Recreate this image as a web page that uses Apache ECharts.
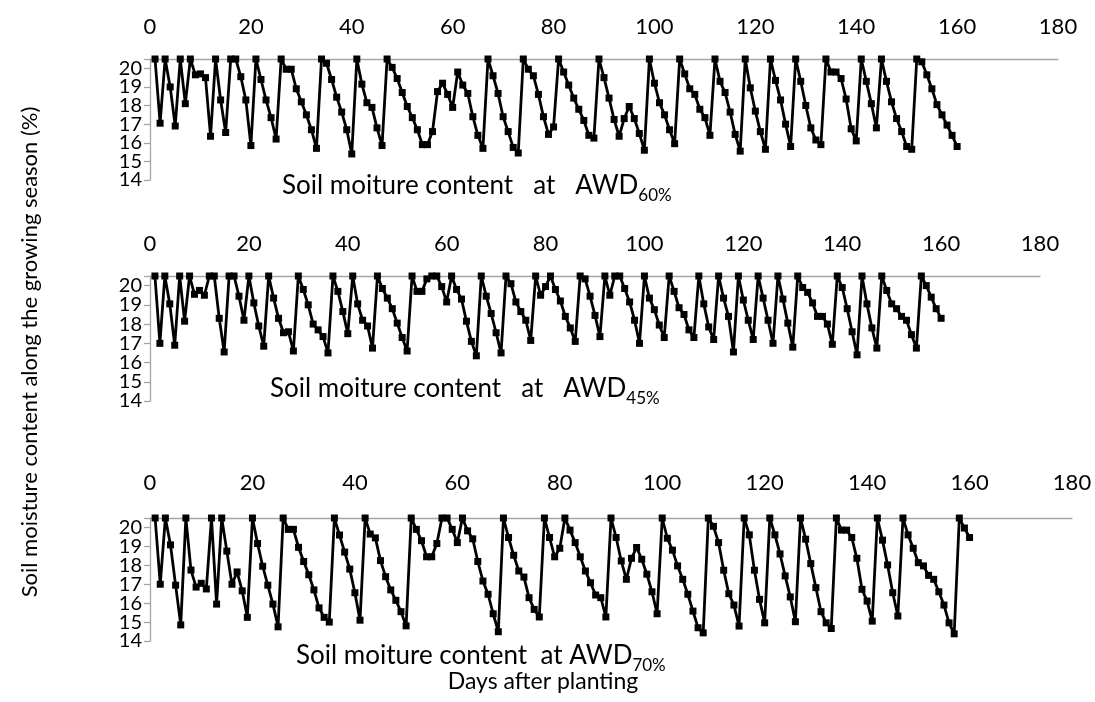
<!DOCTYPE html>
<html>
<head>
<meta charset="utf-8">
<script src="https://cdn.jsdelivr.net/npm/echarts@6/dist/echarts.min.js"></script>
<style>
html,body{margin:0;padding:0;background:#fff;}
#chart{width:1095px;height:702px;}
</style>
</head>
<body>
<div id="chart"></div>
<script>
// Soil moisture (%) per day after planting, days 1..160
const awd60 = [
  20.5,17.05,20.5,19.0,16.9,20.5,18.1,20.5,19.65,19.7,
  19.5,16.35,20.5,18.3,16.55,20.5,20.5,19.55,18.3,15.85,
  20.5,19.4,18.3,17.35,16.2,20.5,19.95,19.95,18.9,18.2,
  17.5,16.7,15.7,20.5,20.27,19.4,18.45,17.65,16.7,15.4,
  20.5,19.15,18.15,17.9,16.8,15.85,20.5,20.05,19.45,18.7,
  17.95,17.35,16.7,15.9,15.9,16.6,18.75,19.2,18.6,17.9,
  19.8,19.1,18.65,17.4,16.4,15.7,20.5,19.6,18.65,17.4,
  16.6,15.75,15.45,20.5,19.95,19.6,18.6,17.4,16.45,16.85,
  20.5,19.8,19.1,18.4,17.8,17.2,16.4,16.25,20.5,19.5,
  18.4,17.25,16.35,17.3,17.95,17.3,16.5,15.6,20.5,19.2,
  18.15,17.5,16.7,15.95,20.5,19.7,18.9,18.6,17.8,17.35,
  16.4,20.5,19.3,18.7,17.65,16.45,15.55,20.5,18.95,17.7,
  16.6,15.65,20.5,19.35,18.3,17.0,15.8,20.5,19.3,18.0,
  16.8,16.15,15.9,20.5,19.8,19.8,19.45,18.35,16.75,16.1,
  20.5,19.3,18.1,16.8,20.5,19.3,18.2,17.3,16.6,15.8,
  15.65,20.5,20.35,19.65,18.9,18.05,17.5,16.95,16.4,15.8
];
const awd45 = [
  20.5,17.0,20.5,19.05,16.9,20.5,18.15,20.5,19.55,19.75,
  19.5,20.5,20.5,18.3,16.55,20.5,20.5,19.45,18.2,20.5,
  19.1,17.9,16.85,20.5,19.35,18.3,17.55,17.6,16.6,20.5,
  19.8,19.0,18.0,17.7,17.35,16.5,20.5,19.7,18.65,17.5,
  20.5,19.05,18.2,17.9,16.75,20.5,19.85,19.35,18.8,18.05,
  17.3,16.6,20.5,19.7,19.7,20.35,20.5,20.5,19.95,19.15,
  20.5,19.8,19.3,18.15,17.1,16.35,20.5,19.45,18.55,17.55,
  16.5,20.5,20.1,19.15,18.65,18.2,17.15,20.5,19.5,19.95,
  20.5,19.8,19.2,18.4,17.8,17.1,20.5,20.35,19.45,18.45,
  17.35,20.5,19.5,20.5,20.5,19.85,19.15,18.2,17.0,20.5,
  19.35,18.75,17.95,17.3,20.5,19.7,18.85,18.5,17.7,17.3,
  20.5,19.05,17.85,17.2,20.5,19.35,18.4,16.55,20.5,19.25,
  18.2,17.2,20.5,19.35,18.2,17.0,20.5,19.3,18.05,16.8,
  20.5,19.9,19.65,19.1,18.4,18.4,18.0,16.95,20.5,19.9,
  18.8,17.6,16.4,20.5,19.05,17.8,16.75,20.5,19.75,19.05,
  18.8,18.4,18.2,17.45,16.75,20.5,20.0,19.4,18.8,18.3
];
const awd70 = [
  20.5,17.0,20.5,19.08,16.95,14.85,20.5,17.75,16.85,17.05,
  16.75,20.5,15.95,20.5,18.75,17.0,17.65,16.65,15.25,20.5,
  19.15,17.95,16.95,15.95,14.75,20.5,19.9,19.9,18.95,18.2,
  17.5,16.7,15.75,15.25,15.0,20.5,19.6,18.7,17.8,16.55,
  15.1,20.5,19.65,19.45,18.25,17.4,16.7,16.15,15.55,14.8,
  20.5,19.9,19.3,18.45,18.45,19.15,20.5,20.5,19.9,19.2,
  20.5,19.82,19.4,18.2,17.17,16.47,15.44,14.49,20.5,19.47,
  18.53,17.7,17.38,16.29,15.67,15.27,20.5,19.47,18.45,18.9,
  20.5,19.86,19.2,18.45,17.7,17.08,16.43,16.29,15.27,20.5,
  19.47,18.23,17.26,18.37,18.94,18.32,17.53,16.6,15.44,20.5,
  19.43,18.8,17.97,17.26,16.47,15.58,14.7,14.43,20.5,20.06,
  19.2,17.74,16.5,15.9,14.79,20.5,19.61,17.74,16.2,14.96,
  20.5,19.61,18.6,17.44,16.33,15.02,20.5,19.38,18.09,16.82,
  15.55,14.96,14.66,20.5,19.86,19.86,19.47,18.37,16.73,16.11,
  15.05,20.5,19.33,18.02,16.55,15.32,20.5,19.61,18.9,18.14,
  17.97,17.47,17.26,16.6,15.9,14.96,14.38,20.5,19.97,19.47
];
const xTicks = [0, 20, 40, 60, 80, 100, 120, 140, 160, 180];
const yTicks = [14, 15, 16, 17, 18, 19, 20];
const panelLabels = ['60%', '45%', '70%'];

const seriesValues = [awd60, awd45, awd70];
const FONT = 'Lato';
const grids = [
  {left: 150, top: 59, width: 908, height: 121},
  {left: 150, top: 276, width: 890, height: 125},
  {left: 150, top: 518, width: 922, height: 123}
];
const xMargins = [21, 21, 24];

const chart = echarts.init(document.getElementById('chart'), null, {renderer: 'canvas'});

const xAxes = grids.map((g, i) => ({
  type: 'value', gridIndex: i, position: 'top',
  min: xTicks[0], max: xTicks[xTicks.length - 1], interval: xTicks[1] - xTicks[0],
  axisLine: {show: true, onZero: false, lineStyle: {color: '#a6a6a6', width: 1.3}},
  axisTick: {show: false},
  splitLine: {show: false},
  axisLabel: {fontSize: 22, fontFamily: FONT, color: '#000', margin: xMargins[i], showMinLabel: true, showMaxLabel: true}
}));
const yAxes = grids.map((g, i) => ({
  type: 'value', gridIndex: i,
  min: yTicks[0], max: 20.5, interval: 1,
  axisLine: {show: true, onZero: false, lineStyle: {color: '#a6a6a6', width: 1.3}},
  axisTick: {show: true, length: 6, lineStyle: {color: '#a6a6a6', width: 1.3}},
  splitLine: {show: false},
  // labels are placed below via the axis scale (convertToPixel) so none get auto-hidden
  axisLabel: {show: false}
}));
const series = seriesValues.map((vals, i) => ({
  type: 'line', xAxisIndex: i, yAxisIndex: i,
  data: vals.map((v, k) => [k + 1, v]),
  symbol: 'rect', symbolSize: 7,
  lineStyle: {color: '#000', width: 2.8},
  itemStyle: {color: '#000'},
  emphasis: {disabled: true},
  animation: false
}));

function panelTitle(x, y, main, sub) {
  return {
    type: 'text', x: x, y: y,
    style: {
      text: '{a|' + main + '}{b|' + sub + '}',
      align: 'left', verticalAlign: 'bottom',
      rich: {
        a: {fontSize: 26, fontFamily: FONT, fill: '#000', lineHeight: 26, padding: [0, 0, 5, 0], verticalAlign: 'bottom'},
        b: {fontSize: 17, fontFamily: FONT, fill: '#000', lineHeight: 17, verticalAlign: 'bottom'}
      }
    }
  };
}

const baseGraphics = [
  panelTitle(282, 204, 'Soil moiture content   at   AWD', panelLabels[0]),
  panelTitle(270, 407, 'Soil moiture content   at   AWD', panelLabels[1]),
  panelTitle(296, 674, 'Soil moiture content  at AWD', panelLabels[2]),
  {
    type: 'text', x: 543, y: 682,
    style: {text: 'Days after planting', fontSize: 23, fontFamily: FONT, fill: '#000', align: 'center', verticalAlign: 'middle'}
  },
  {
    type: 'text', x: 30, y: 352, rotation: Math.PI / 2,
    style: {text: 'Soil moisture content along the growing season (%)', fontSize: 22, fontFamily: FONT, fill: '#000', align: 'center', verticalAlign: 'middle'}
  }
];

chart.setOption({
  animation: false,
  backgroundColor: '#fff',
  grid: grids,
  xAxis: xAxes,
  yAxis: yAxes,
  series: series,
  graphic: baseGraphics
});

// y tick labels positioned through each panel's own y scale
const tickLabels = [];
grids.forEach((g, i) => {
  yTicks.forEach(v => {
    const p = chart.convertToPixel({gridIndex: i}, [xTicks[0], v]);
    tickLabels.push({
      type: 'text', x: p[0] - 8, y: p[1],
      style: {text: String(v), fontSize: 20, fontFamily: FONT, fill: '#000', align: 'right', verticalAlign: 'middle'}
    });
  });
});
chart.setOption({graphic: baseGraphics.concat(tickLabels)});
</script>
</body>
</html>
